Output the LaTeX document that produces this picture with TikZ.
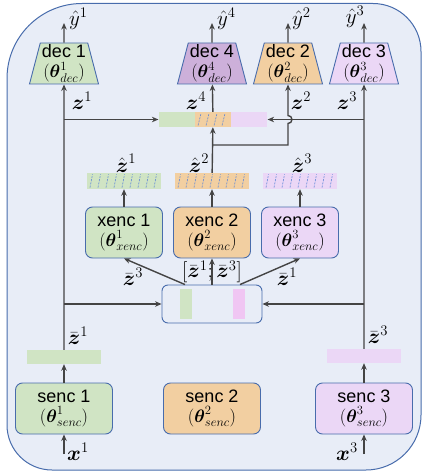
\documentclass[tikz,border=0pt]{standalone}
\usepackage{fix-cm}
\usepackage{amsmath}
\usepackage{fontspec}
\setmainfont{Liberation Sans}
\usetikzlibrary{positioning,arrows.meta,calc,shapes.geometric}
\definecolor{bgfill}{RGB}{232,237,247}
\definecolor{frame}{RGB}{72,108,172}
\definecolor{lgreen}{RGB}{208,228,196}
\definecolor{lorange}{RGB}{242,207,161}
\definecolor{llilac}{RGB}{235,215,246}
\definecolor{dlilac}{RGB}{205,176,218}
\definecolor{lpink}{RGB}{240,198,243}
\definecolor{hatchc}{RGB}{95,135,215}
\definecolor{arrc}{RGB}{68,68,68}

\begin{document}
\begin{tikzpicture}[x=1pt, y=-1pt, >={Stealth[length=6.5pt,width=5.5pt]}, font=\fontsize{18}{20}\selectfont,
      enc/.style={draw=frame, line width=0.9pt, rounded corners=7pt, align=center, minimum width=77pt, minimum height=51pt, inner sep=0pt},
      dec/.style={trapezium, trapezium angle=74, trapezium stretches body, draw=frame, line width=0.9pt, align=center, minimum width=69pt, minimum height=41pt, inner sep=0pt},
      bar/.style={minimum width=74pt, minimum height=15pt, inner sep=0pt},
      lbl/.style={inner sep=0pt, font=\fontsize{21}{24}\selectfont},
      hatch/.style={draw=hatchc, line width=0.6pt, dash pattern=on 2pt off 1.2pt},
      arr/.style={->, draw=arrc, line width=1.4pt}]
      \useasboundingbox (0,0) rectangle (421,473);
      \draw[draw=frame, fill=bgfill, line width=1pt] (82,3.5) -- (373,3.5) arc[start angle=90, end angle=0, radius=48pt]
        -- (421,415) arc[start angle=0, end angle=-90, radius=55pt] -- (52,470) arc[start angle=-90, end angle=-180, radius=45pt]
        -- (7,78.5) arc[start angle=180, end angle=90, radius=75pt] -- cycle;

      \node[dec, fill=lgreen] (dec1) at (64,63.5) {dec 1\\$(\boldsymbol{\theta}^1_{dec})$};
      \node[dec, fill=dlilac] (dec4) at (212,63.5) {dec 4\\$(\boldsymbol{\theta}^4_{dec})$};
      \node[dec, fill=lorange] (dec2) at (288,63.5) {dec 2\\$(\boldsymbol{\theta}^2_{dec})$};
      \node[dec, fill=llilac] (dec3) at (364,63.5) {dec 3\\$(\boldsymbol{\theta}^3_{dec})$};
      \coordinate (o1) at (64,23); \coordinate (o4) at (212,23); \coordinate (o2) at (288,23); \coordinate (o3) at (364,23);
      \node[lbl, anchor=west] (lyh1) at (69,19) {$\hat{y}^1$};
      \node[lbl, anchor=west] (lyh4) at (217,19) {$\hat{y}^4$};
      \node[lbl, anchor=west] (lyh2) at (292,19) {$\hat{y}^2$};
      \node[lbl] (lyh3) at (355,17) {$\hat{y}^3$};

      \node[bar, minimum width=36pt, fill=lorange] (b4b) at (213,119.5) {};
      \node[bar, minimum width=36pt, fill=lgreen, left=0pt of b4b] (b4a) {};
      \node[bar, minimum width=36pt, fill=llilac, right=0pt of b4b] (b4c) {};
      \foreach \x in {198,206,214,222} \draw[hatch] (\x,125.5) -- (\x+3,113.5);
      \node[lbl] (lz1) at (82,101) {$\boldsymbol{z}^1$};
      \node[lbl] (lz4) at (196,101) {$\boldsymbol{z}^4$};
      \node[lbl] (lz2) at (301,101) {$\boldsymbol{z}^2$};
      \node[lbl] (lz3) at (347,101) {$\boldsymbol{z}^3$};

      \node[bar, minimum height=16pt, fill=lgreen] (zh1) at (124,181) {};
      \node[bar, minimum height=16pt, fill=lorange] (zh2) at (212,181) {};
      \node[bar, minimum height=16pt, fill=llilac] (zh3) at (300,181) {};
      \foreach \x in {90,98,...,154} \draw[hatch] (\x,187.5) -- (\x+2.5,174.5);
      \foreach \x in {178,186,...,242} \draw[hatch] (\x,187.5) -- (\x+2.5,174.5);
      \foreach \x in {266,274,...,330} \draw[hatch] (\x,187.5) -- (\x+2.5,174.5);
      \node[lbl] (lzh1) at (126,163) {$\hat{\boldsymbol{z}}^1$};
      \node[lbl] (lzh2) at (199,163) {$\hat{\boldsymbol{z}}^2$};
      \node[lbl] (lzh3) at (302,163) {$\hat{\boldsymbol{z}}^3$};
      \coordinate (j2) at (212,145);

      \node[enc, fill=lgreen] (xe1) at (124,232.5) {xenc 1\\$(\boldsymbol{\theta}^1_{xenc})$};
      \node[enc, fill=lorange] (xe2) at (212,232.5) {xenc 2\\$(\boldsymbol{\theta}^2_{xenc})$};
      \node[enc, fill=llilac] (xe3) at (300,232.5) {xenc 3\\$(\boldsymbol{\theta}^3_{xenc})$};

      \node[draw=frame, line width=0.9pt, rounded corners=6pt, minimum width=100pt, minimum height=38pt, inner sep=0pt] (mix) at (212,304) {};
      \node[minimum width=12pt, minimum height=30pt, inner sep=0pt, fill=lgreen] (mg) at (186,303.5) {};
      \node[minimum width=12pt, minimum height=30pt, inner sep=0pt, fill=lpink] (mp) at (239,303.5) {};
      \node[lbl] (lzb3m) at (133,277) {$\bar{\boldsymbol{z}}^3$};
      \node[lbl] (lpair) at (212,272) {$[\bar{\boldsymbol{z}}^1;\bar{\boldsymbol{z}}^3]$};
      \node[lbl] (lzb1m) at (287,277) {$\bar{\boldsymbol{z}}^1$};

      \node[bar, minimum height=14pt, fill=lgreen] (zb1) at (64,357) {};
      \node[bar, minimum height=14pt, fill=llilac] (zb3) at (364,356) {};
      \node[lbl] (lzb1) at (78,336) {$\bar{\boldsymbol{z}}^1$};
      \node[lbl] (lzb3) at (378,335) {$\bar{\boldsymbol{z}}^3$};

      \node[enc, minimum width=97pt, fill=lgreen] (s1) at (64,408.5) {senc 1\\$(\boldsymbol{\theta}^1_{senc})$};
      \node[enc, minimum width=97pt, fill=lorange] (s2) at (212,408.5) {senc 2\\$(\boldsymbol{\theta}^2_{senc})$};
      \node[enc, minimum width=97pt, fill=llilac] (s3) at (364,408.5) {senc 3\\$(\boldsymbol{\theta}^3_{senc})$};
      \coordinate (in1) at (64,454); \coordinate (in3) at (364,454);
      \node[lbl] (lx1) at (78,452) {$\boldsymbol{x}^1$};
      \node[lbl] (lx3) at (347,452) {$\boldsymbol{x}^3$};

      \draw[arr] (dec1) -- (o1); \draw[arr] (dec4) -- (o4); \draw[arr] (dec2) -- (o2); \draw[arr] (dec3) -- (o3);
      \draw[arr] (zb1) -- (dec1); \draw[arr] (zb3) -- (dec3);
      \draw[arr] (zb1.north |- b4a) -- (b4a); \draw[arr] (zb3.north |- b4c) -- (b4c);
      \draw[arr] (zb1.north |- mix) -- (mix); \draw[arr] (zb3.north |- mix) -- (mix);
      \draw[arr] (b4b) -- (dec4); \draw[arr] (zh2) -- (b4b);
      \draw[arr] (j2) -- (j2 -| dec2) -- ++(0,-21.5) arc[start angle=-90, end angle=90, radius=4pt] -- (dec2);
      \draw[arr] (xe1) -- (zh1); \draw[arr] (xe2) -- (zh2); \draw[arr] (xe3) -- (zh3);
      \draw[arr] ([xshift=-27pt]mix.north) -- (xe1.south); \draw[arr] (mix) -- (xe2); \draw[arr] ([xshift=28pt]mix.north) -- (xe3.south);
      \draw[arr] (s1) -- (zb1); \draw[arr] (s3) -- (zb3);
      \draw[arr] (in1) -- (s1); \draw[arr] (in3) -- (s3);
    \end{tikzpicture}
\end{document}
